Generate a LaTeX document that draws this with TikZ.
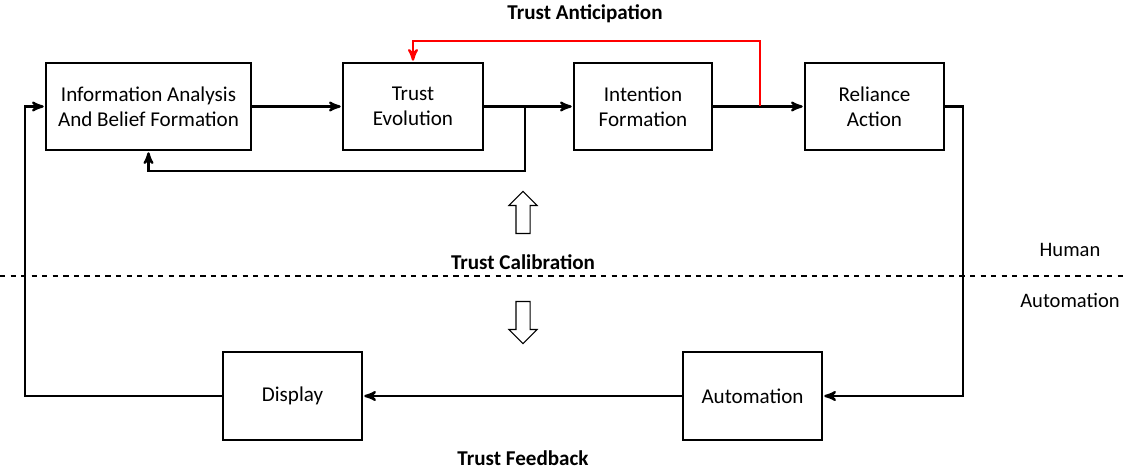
\documentclass[tikz,border=0pt]{standalone}
\usepackage{fontspec}
\setmainfont{Carlito}
\usepackage{tikz}
\usetikzlibrary{arrows,shapes,shapes.arrows,calc,positioning}

\begin{document}
\begin{tikzpicture}[->,>=stealth',shorten >=1pt,line width=1.3pt]

   \tikzstyle{block}=[draw,line width=0.6pt,minimum height=1.74cm,align=center,
                      font=\fontsize{12}{14.2}\selectfont]
   \tikzstyle{title}=[font=\fontsize{12}{14}\selectfont\bfseries]
   \tikzstyle{side}=[font=\fontsize{11.7}{14}\selectfont]
   \tikzstyle{fat}=[draw,line width=0.6pt,single arrow,minimum height=0.84cm,
                    minimum width=0.54cm,single arrow head extend=0.14cm,inner sep=0.13cm]

   % fix the page size
   \useasboundingbox (0,0) rectangle (22.54,9.46);

    % human side
    \node[block,minimum width=4.1cm]  at (2.97,7.33)  (info)  {Information Analysis\\And Belief Formation};
    \node[block,minimum width=2.8cm]  at (8.26,7.33)  (trust) {Trust\\Evolution};
    \node[block,minimum width=2.76cm] at (12.86,7.33) (inten) {Intention\\Formation};
    \node[block,minimum width=2.78cm] at (17.49,7.33) (relia) {Reliance\\Action};

    % automation side
    \node[block,minimum width=2.78cm,minimum height=1.76cm] at (5.85,1.54)  (disp) {Display};
    \node[block,minimum width=2.78cm,minimum height=1.76cm] at (15.05,1.54) (auto) {Automation};

    % labels
    \node[title] at (11.7,9.18)  (antic) {Trust Anticipation};
    \node[title] at (10.46,4.22) (calib) {Trust Calibration};
    \node[title] at (10.46,0.3)  (feedb) {Trust Feedback};
    \node[side]  at (21.4,4.46)  (human) {Human};
    \node[side]  at (21.4,3.46)  (autom) {Automation};

    \node[fat,shape border rotate=90] at (10.46,5.14) (up)   {};
    \node[fat,shape border rotate=270] at (10.46,3.08) (down) {};

    \draw[-,dashed,line width=0.6pt,shorten >=0pt] (0,3.94) -- (22.54,3.94);

    % turning points
    \coordinate (split) at (10.5,7.33);
    \coordinate (fb)    at (10.5,6.04);
    \coordinate (ant)   at (15.2,7.33);
    \coordinate (antc)  at (15.2,8.64);
    \coordinate (rloop) at (19.26,1.54);
    \coordinate (lloop) at (0.5,1.54);

    \draw (info) -- (trust);
    \draw (trust) -- (inten);
    \draw (inten) -- (relia);

    \draw (split) -- (fb) -| (info.south);
    \draw[red,line width=1.3pt] (ant) -- (antc) -| (trust.north);

    \draw (relia.east) -| (rloop) -- (auto.east);
    \draw (auto) -- (disp);
    \draw (disp.west) -- (lloop) |- (info.west);

\end{tikzpicture}
\end{document}
